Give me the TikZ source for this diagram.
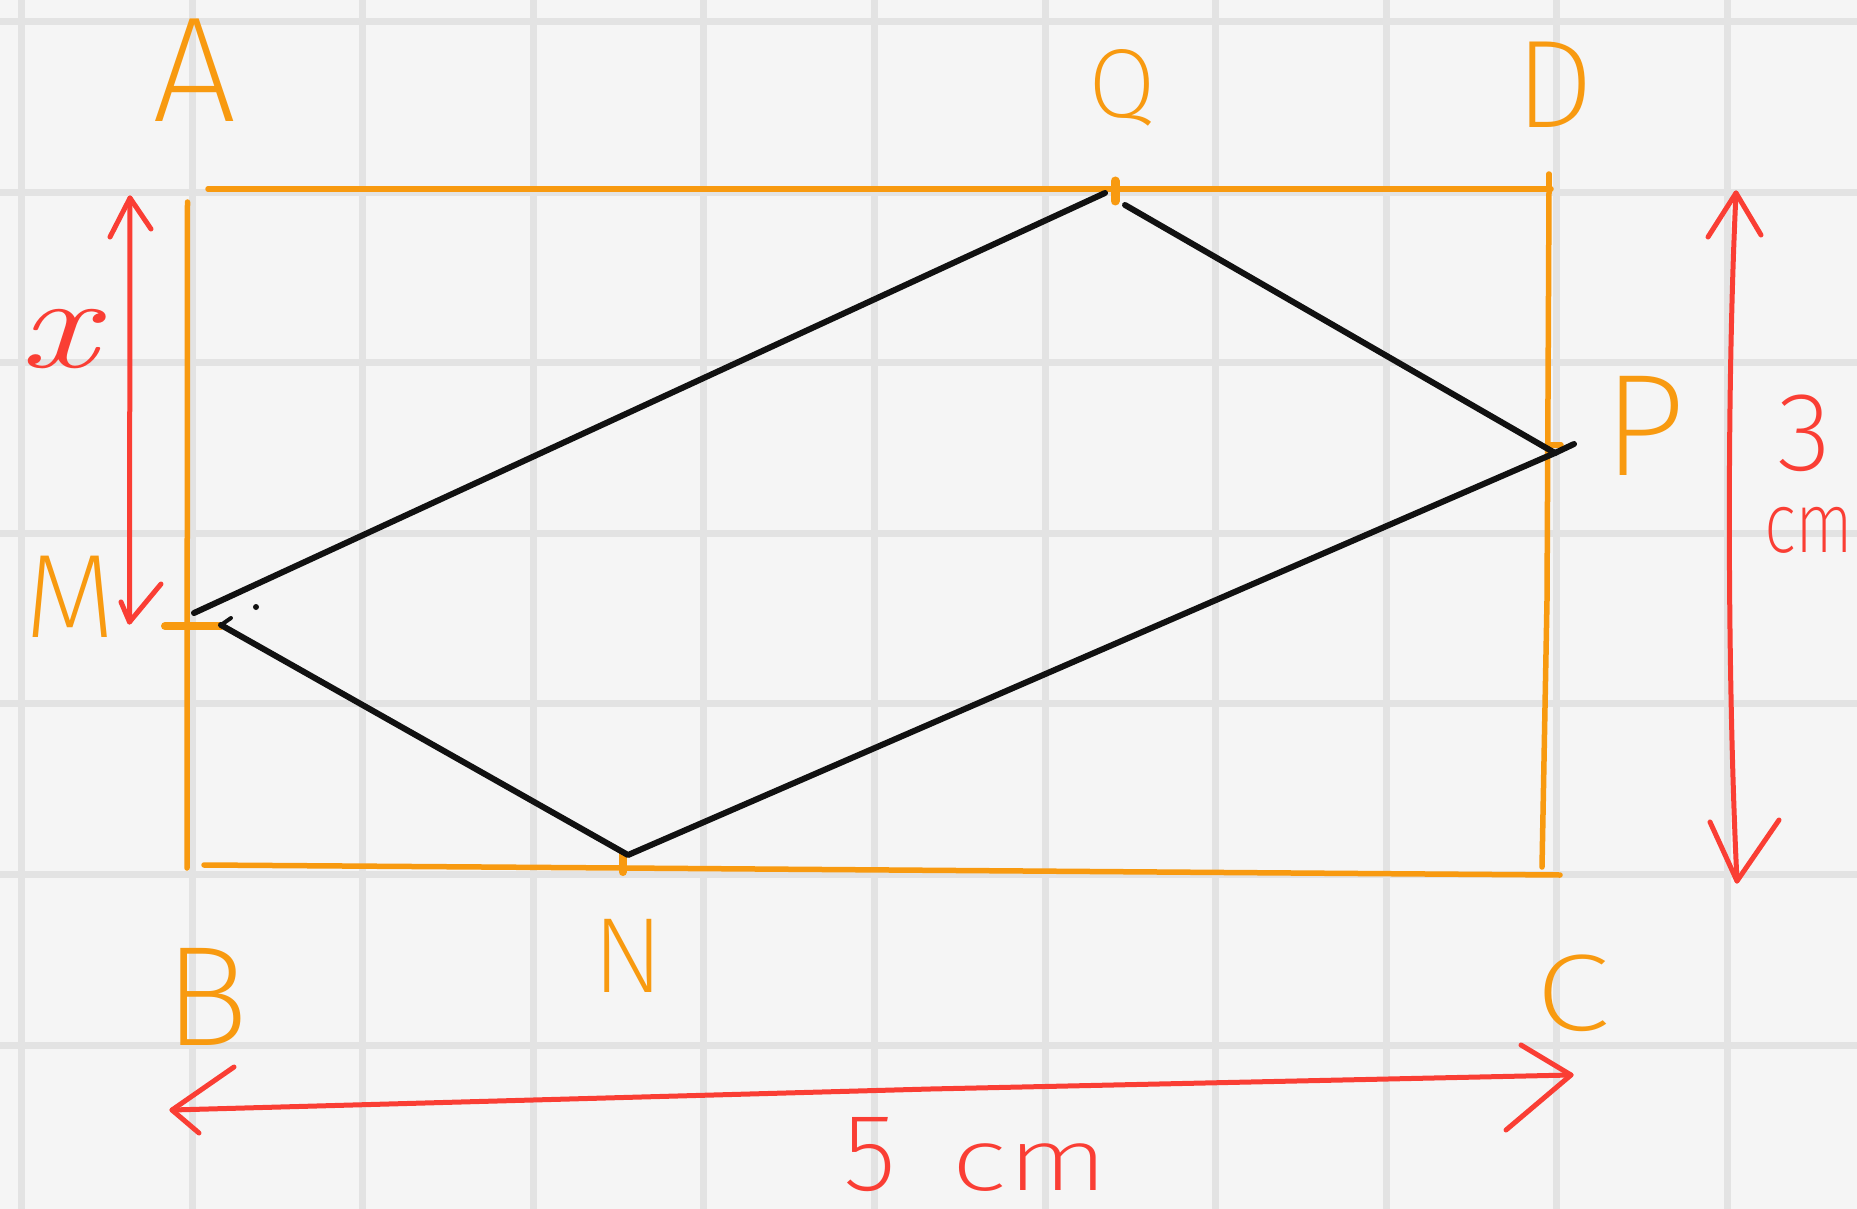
\documentclass[tikz,border=0pt]{standalone}
\usepackage{graphicx}
\usepackage{fontspec}
\setmainfont{Fira Sans Light}
\newfontfamily\hw{Fira Sans ExtraLight}
\newfontfamily\lmrom{Latin Modern Roman}
\definecolor{orng}{RGB}{248,154,16}
\definecolor{rd}{RGB}{250,62,52}
\definecolor{grd}{RGB}{227,227,227}
\definecolor{bgc}{RGB}{245,245,245}
\definecolor{blk}{RGB}{17,17,17}
\tikzset{
 gridline/.style={grd, line width=7pt},
 rect/.style={orng, line width=5.5pt, line cap=round},
 quad/.style={blk, line width=6pt, line cap=round, line join=round},
 dim/.style={rd, line width=5pt, line cap=round, line join=round},
 lab/.style={text=orng, inner sep=0pt, anchor=base, font=\hw\fontsize{#1}{#1}\selectfont},
 dimlab/.style={text=rd, inner sep=0pt, anchor=base, font=\hw\fontsize{#1}{#1}\selectfont},
}
\begin{document}
\begin{tikzpicture}[x=1pt,y=-1pt]
\useasboundingbox (0,0) rectangle (1857,1209);
\fill[bgc] (0,0) rectangle (1857,1209);
% grid
\foreach \k in {0,...,10} \draw[gridline] ({21.5+170.6*\k},0) -- ({21.5+170.6*\k},1209);
\foreach \k in {0,...,6} \draw[gridline] (0,{21.5+170.6*\k}) -- (1857,{21.5+170.6*\k});

% rectangle ABCD
\coordinate (TL) at (208,189);
\coordinate (TR) at (1551,189);
\coordinate (LT) at (187.5,202);
\coordinate (LB) at (187,868);
\coordinate (BL) at (204,865);
\coordinate (BM) at (622,868);
\coordinate (BR) at (1560,875);
\coordinate (RT) at (1549,189);
\coordinate (RM) at (1547,600);
\coordinate (RB) at (1542,867);
\draw[rect] (TL) -- (TR);
\draw[rect] (LT) -- (LB);
\draw[rect] (BL) -- (BM) -- (BR);
\draw[rect] (RT) -- (RM) -- (RB);
% ticks
\draw[rect, line width=9pt] (1115,181) -- (1115,201);
\draw[rect, line width=8pt] (622.7,854) -- (622.7,872);
\draw[rect] (1549,174) -- (1549,190);
\draw[rect, line width=8pt] (165,626) -- (221,626);
\draw[rect] (1549,445) -- (1561,445);

% quadrilateral MNPQ
\coordinate (Ma) at (194,613);
\coordinate (Mb) at (221,625);
\coordinate (Qa) at (1105,193);
\coordinate (Qb) at (1125,205);
\coordinate (Npt) at (628,855);
\coordinate (Ppt) at (1555,453);
\draw[quad] (Ma) -- (Qa);
\draw[quad] (Qb) -- (Ppt);
\draw[quad] (Mb) -- (Npt) -- (Ppt);
\draw[quad] (Ppt) -- (1574,444);
\draw[quad, line width=4pt] (Mb) -- (231,618);
\fill[blk] (256,607) circle (3);

% labels
\node[lab=150] (A) at (195,122) {A};
\node[lab=98] (Q) at (1122,118) {Q};
\node[lab=125] (D) at (1555,128) {D};
\node[lab=145] (P) at (1645,475) {P};
\node[lab=119] (M) at (70,637) {M};
\node[lab=107] (N) at (628,992) {N};
\node[lab=142] (B) at (207,1045) {B};
\node[lab=109] (C) at (1573,1030) {\scalebox{1.25}[1]{C}};

% dimension arrows
\coordinate (xt) at (130,198);
\coordinate (xb) at (129.5,622);
\draw[dim] (xt) -- (xb);
\draw[dim] (110,237) -- (xt) -- (151,229);
\draw[dim] (121,602) -- (xb) -- (161,584);

\coordinate (tt) at (1736,193);
\coordinate (tb) at (1737,881);
\draw[dim] (tt) .. controls (1726,400) and (1728,700) .. (tb);
\draw[dim] (1708,237) -- (tt) -- (1761,235);
\draw[dim] (1710,822) -- (tb) -- (1779,820);

\coordinate (fl) at (172,1110);
\coordinate (fr) at (1571,1075);
\draw[dim] (fl) -- (930,1089) -- (fr);
\draw[dim] (234,1067) -- (fl) -- (199,1133);
\draw[dim] (1521,1045) -- (fr) -- (1506,1130);

\node[dimlab=132, font=\lmrom\itshape\fontsize{132}{132}\selectfont] (xl) at (58,367) {\scalebox{1.3}[1]{x}};
\node[dimlab=112] (three) at (1804,470) {3};
\node[dimlab=85] (cmr) at (1809,552) {\scalebox{0.8}[1]{cm}};
\node[dimlab=110] (five) at (870,1190) {5};
\node[dimlab=88] (cmb) at (1030,1190) {\scalebox{1.35}[1]{cm}};
\end{tikzpicture}
\end{document}
